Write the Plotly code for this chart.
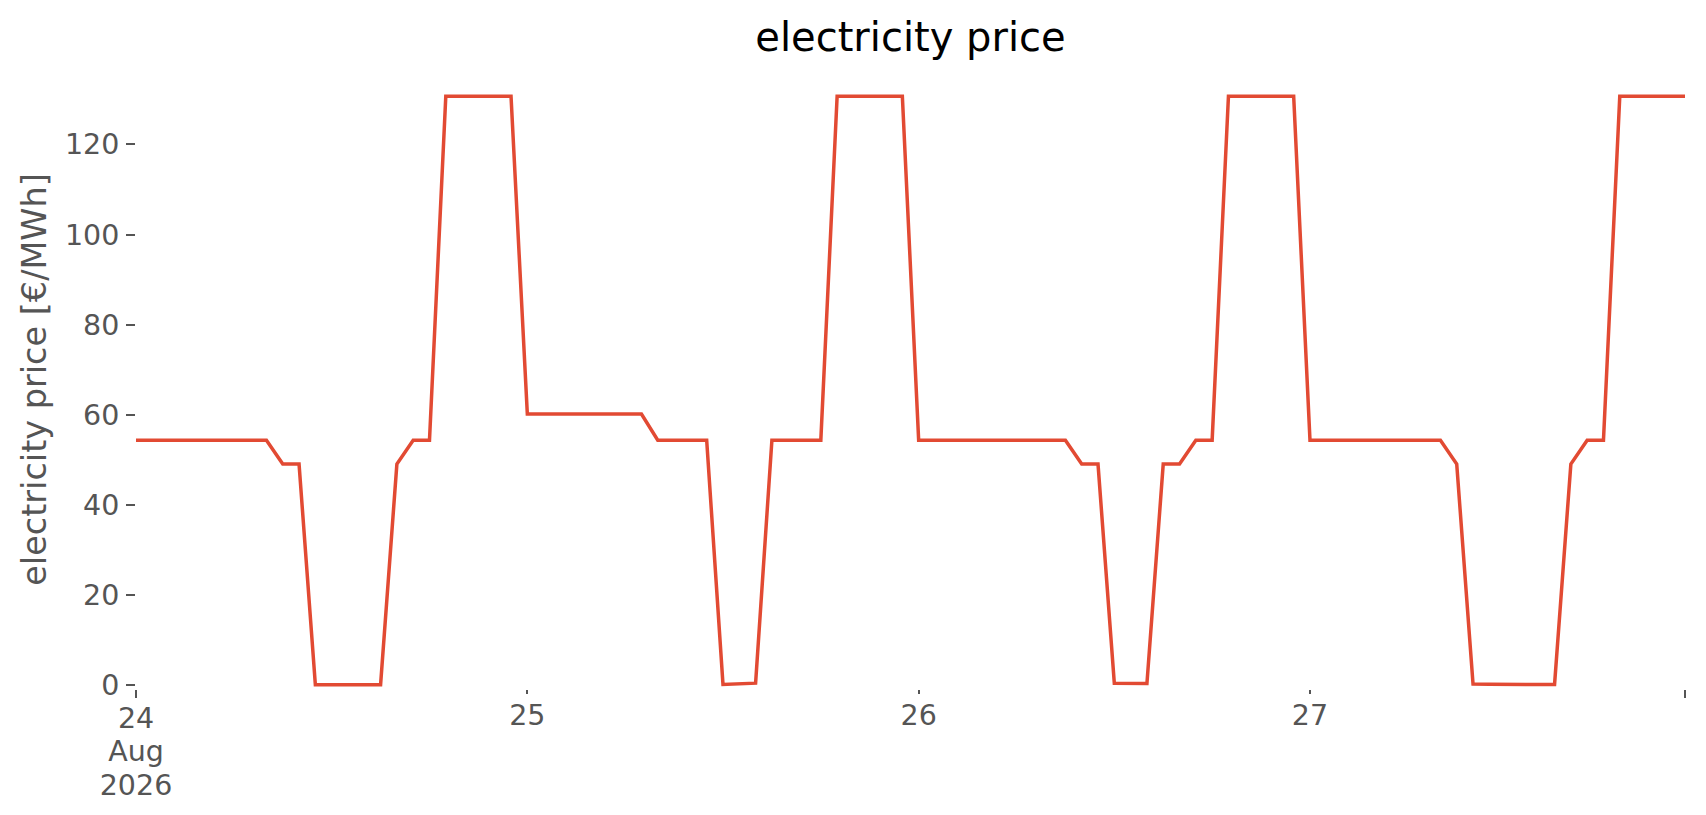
import pandas as pd
import plotly.graph_objects as go

# hourly day-ahead price, one list per day [EUR/MWh]
price_aug24 = [54.4, 54.4, 54.4, 54.4, 54.4, 54.4, 54.4, 54.4, 54.4,
               49.1, 49.1,
               0.12, 0.12, 0.12, 0.12, 0.15,
               49.1,
               54.4, 54.4,
               130.7, 130.7, 130.7, 130.7, 130.7]
price_aug25 = [60.2, 60.2, 60.2, 60.2, 60.2, 60.2, 60.2, 60.2,
               54.4, 54.4, 54.4, 54.4,
               0.2, 0.3, 0.5,
               54.4, 54.4, 54.4, 54.4,
               130.7, 130.7, 130.7, 130.7, 130.7]
price_aug26 = [54.4, 54.4, 54.4, 54.4, 54.4, 54.4, 54.4, 54.4, 54.4, 54.4,
               49.1, 49.1,
               0.45, 0.4, 0.4,
               49.1, 49.1,
               54.4, 54.4,
               130.7, 130.7, 130.7, 130.7, 130.7]
price_aug27 = [54.4, 54.4, 54.4, 54.4, 54.4, 54.4, 54.4, 54.4, 54.4,
               49.1,
               0.3, 0.25, 0.2, 0.2, 0.15, 0.2,
               49.1,
               54.4, 54.4,
               130.7, 130.7, 130.7, 130.7, 130.7]

start = "2026-08-24 00:00"
day_ticks = ["2026-08-25", "2026-08-26", "2026-08-27"]
day_labels = ["25", "26", "27"]
first_label = ["24", "Aug", "2026"]   # drawn line by line (tighter than <br>)
y_ticks = [0, 20, 40, 60, 80, 100, 120]

prices = price_aug24 + price_aug25 + price_aug26 + price_aug27
times = pd.date_range(start, periods=len(prices), freq="h")
x_range = [times[0], times[-1]]

grey = "#555555"
font = "DejaVu Sans"

fig = go.Figure()
fig.add_trace(go.Scatter(x=times, y=prices, mode="lines",
                         line=dict(color="#E24A33", width=3.5),
                         name="electricity price", showlegend=False))
# empty traces so the extra x axes get drawn
for ax in ["x2", "x3", "x4"]:
    fig.add_trace(go.Scatter(x=[], y=[], xaxis=ax, yaxis="y",
                             showlegend=False, hoverinfo="skip"))

common_x = dict(type="date", range=x_range, tickmode="array", automargin=False,
                showgrid=False, zeroline=False, showline=False)

fig.update_layout(
    width=1706, height=815,
    margin=dict(l=128, r=29, t=62, b=134),
    paper_bgcolor="white", plot_bgcolor="white",
    font=dict(family=font, color=grey, size=28.5),
    title=dict(text="electricity price", x=0.5, xref="paper", xanchor="center",
               y=1 - 29 / 815, yanchor="middle", automargin=False,
               font=dict(family=font, size=40, color="black")),
    # long ticks at both ends of the series
    xaxis=dict(common_x, tickvals=[times[0], times[-1]],
               ticktext=[first_label[0], ""],
               ticks="outside", ticklen=8, tickwidth=1.6, tickcolor=grey,
               ticklabelstandoff=-4),
    # short ticks for the days in between
    xaxis2=dict(common_x, overlaying="x", anchor="y", side="bottom",
                tickvals=day_ticks, ticktext=day_labels,
                ticks="outside", ticklen=4, tickwidth=1.6, tickcolor=grey,
                ticklabelstandoff=-3),
    # month and year under the first tick
    xaxis3=dict(common_x, overlaying="x", anchor="y", side="bottom",
                tickvals=[times[0]], ticktext=[first_label[1]],
                ticks="", ticklabelstandoff=42),
    xaxis4=dict(common_x, overlaying="x", anchor="y", side="bottom",
                tickvals=[times[0]], ticktext=[first_label[2]],
                ticks="", ticklabelstandoff=76),
    yaxis=dict(range=[-0.8, 136.5], automargin=False,
               tickmode="array", tickvals=y_ticks,
               ticks="outside", ticklen=9, tickwidth=1.6, tickcolor=grey,
               ticklabelstandoff=1,
               showgrid=False, zeroline=False, showline=False,
               title=dict(text="electricity price [€/MWh]", standoff=8,
                          font=dict(family=font, size=33.5, color=grey))),
)

fig.write_html("out.html")
